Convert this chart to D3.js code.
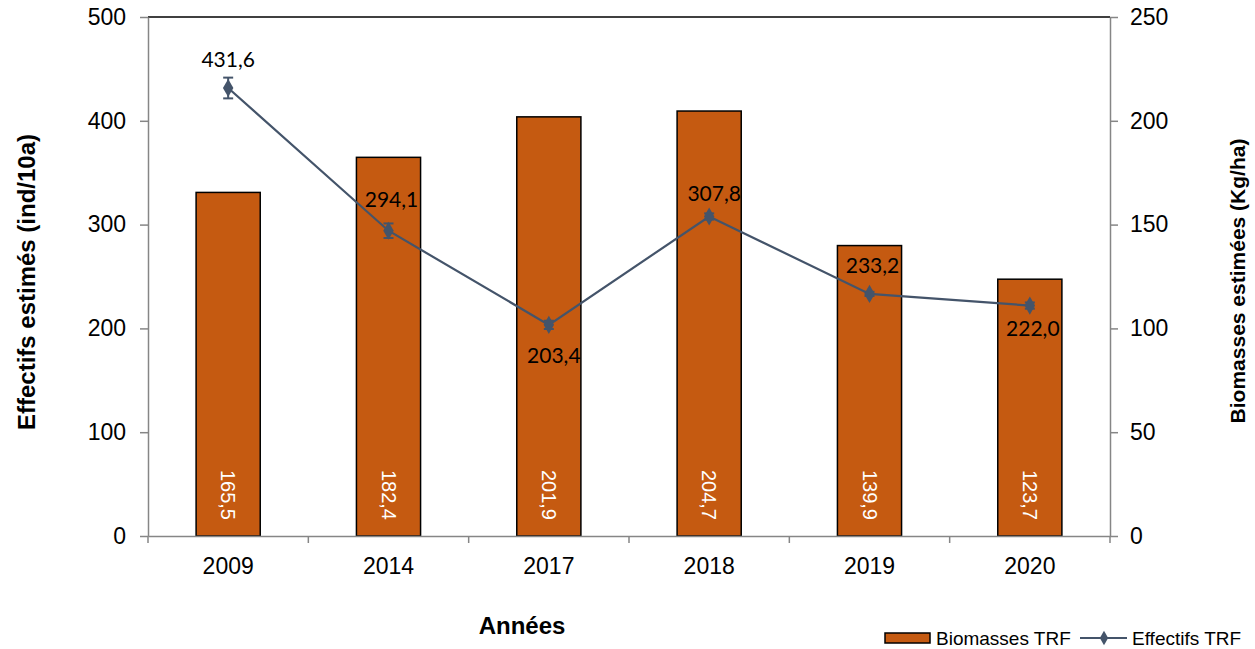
<!DOCTYPE html>
<html><head><meta charset="utf-8">
<script src="https://cdn.jsdelivr.net/npm/d3@7"></script>
<style>
body{margin:0;background:#fff;}
svg{display:block;}
text{font-family:"Liberation Sans",Arial,sans-serif;}
</style></head>
<body>
<svg id="chart" width="1255" height="649"></svg>
<script>
// ---- data ----
const years = ["2009","2014","2017","2018","2019","2020"];
const biomasses = [165.5, 182.4, 201.9, 204.7, 139.9, 123.7];
const effectifs = [431.6, 294.1, 203.4, 307.8, 233.2, 222.0];
const effectifsErr = [10, 7, 4, 3, 2, 3];
const leftTicks = [0, 100, 200, 300, 400, 500];
const rightTicks = [0, 50, 100, 150, 200, 250];
const fmt = v => v.toFixed(1).replace(".", ",");

// ---- layout ----
const M = {left:148, right:1110, top:17, bottom:536};
const labelDy = [-21, -24, 38, -16, -21, 30];
const labelDx = [0, 3, 5, 5, 3, 3];
const barColor = "#c55a11", lineColor = "#44546a", axisColor = "#868686";

const svg = d3.select("#chart");
const x = d3.scaleBand().domain(years).range([M.left, M.right]).paddingInner(0.6).paddingOuter(0.3);
const yL = d3.scaleLinear().domain([0, 500]).range([M.bottom, M.top]);
const yR = d3.scaleLinear().domain([0, 250]).range([M.bottom, M.top]);
const cx = d => x(d) + x.bandwidth()/2;

// top border
svg.append("line").attr("x1", M.left).attr("x2", M.right).attr("y1", M.top).attr("y2", M.top)
  .attr("stroke", "#000").attr("stroke-width", 1.5);

// bars
svg.append("g").selectAll("rect").data(years).join("rect")
  .attr("x", d => x(d)).attr("width", x.bandwidth())
  .attr("y", (d,i) => yR(biomasses[i])).attr("height", (d,i) => yR(0) - yR(biomasses[i]))
  .attr("fill", barColor).attr("stroke", "#000").attr("stroke-width", 1.5);

// bar labels (rotated, white)
svg.append("g").selectAll("text").data(years).join("text")
  .attr("transform", (d) => `translate(${cx(d)},${yR(0) - 16}) rotate(90)`)
  .attr("text-anchor", "end").attr("dominant-baseline", "central")
  .attr("fill", "#fff").attr("font-size", 20)
  .text((d,i) => fmt(biomasses[i]));

// left axis
const gL = svg.append("g").attr("transform", `translate(${M.left},0)`)
  .call(d3.axisLeft(yL).tickValues(leftTicks).tickSize(8).tickSizeOuter(0).tickPadding(14).tickFormat(d3.format("d")));
// right axis
const gR = svg.append("g").attr("transform", `translate(${M.right},0)`)
  .call(d3.axisRight(yR).tickValues(rightTicks).tickSize(8).tickSizeOuter(0).tickPadding(12).tickFormat(d3.format("d")));
[gL, gR].forEach(g => {
  g.select(".domain").attr("stroke", axisColor).attr("stroke-width", 1.5);
  g.selectAll(".tick line").attr("stroke", axisColor).attr("stroke-width", 1.5);
  g.selectAll(".tick text").attr("font-size", 23).attr("fill", "#000")
    .attr("font-family", "Liberation Sans, Arial, sans-serif");
});

// bottom axis
const gB = svg.append("g").attr("transform", `translate(0,${M.bottom})`)
  .call(d3.axisBottom(x).tickSize(0).tickPadding(22));
gB.select(".domain").attr("stroke", axisColor).attr("stroke-width", 1.5);
gB.selectAll(".tick text").attr("font-size", 23).attr("fill", "#000")
  .attr("font-family", "Liberation Sans, Arial, sans-serif");
const bounds = years.map(d => x(d) - x.step()*x.paddingInner()/2).concat([M.right]);
gB.selectAll(".sep").data(bounds).join("line").attr("class", "sep")
  .attr("x1", d => d).attr("x2", d => d).attr("y1", 0).attr("y2", 7)
  .attr("stroke", axisColor).attr("stroke-width", 1.5);

// line
const line = d3.line().x(d => cx(d)).y((d,i) => yL(effectifs[i]));
svg.append("path").datum(years).attr("d", line)
  .attr("fill", "none").attr("stroke", lineColor).attr("stroke-width", 2.2);

// error bars
const eb = svg.append("g").attr("stroke", lineColor).attr("stroke-width", 2);
years.forEach((d,i) => {
  const xc = cx(d), y1 = yL(effectifs[i] + effectifsErr[i]), y2 = yL(effectifs[i] - effectifsErr[i]);
  eb.append("line").attr("x1", xc).attr("x2", xc).attr("y1", y1).attr("y2", y2);
  eb.append("line").attr("x1", xc-5).attr("x2", xc+5).attr("y1", y1).attr("y2", y1);
  eb.append("line").attr("x1", xc-5).attr("x2", xc+5).attr("y1", y2).attr("y2", y2);
});

// markers
const diamond = d3.symbol().type(d3.symbolDiamond).size(95);
svg.append("g").selectAll("path").data(years).join("path")
  .attr("d", diamond)
  .attr("transform", (d,i) => `translate(${cx(d)},${yL(effectifs[i])})`)
  .attr("fill", lineColor);

// point labels
svg.append("g").selectAll("text").data(years).join("text")
  .attr("x", (d,i) => cx(d) + labelDx[i]).attr("y", (d,i) => yL(effectifs[i]) + labelDy[i])
  .attr("text-anchor", "middle").attr("font-size", 21)
  .style("font-family", "Lato, 'Open Sans', sans-serif").attr("fill", "#000")
  .text((d,i) => fmt(effectifs[i]));

// axis titles
svg.append("text").attr("transform", "translate(35,282) rotate(-90)")
  .attr("text-anchor", "middle").attr("font-size", 24).attr("font-weight", "bold")
  .text("Effectifs estimés (ind/10a)");
svg.append("text").attr("transform", "translate(1245,281) rotate(-90)")
  .attr("text-anchor", "middle").attr("font-size", 21).attr("font-weight", "bold")
  .text("Biomasses estimées (Kg/ha)");
svg.append("text").attr("x", 522).attr("y", 634)
  .attr("text-anchor", "middle").attr("font-size", 24).attr("font-weight", "bold")
  .text("Années");

// legend
const lg = svg.append("g");
lg.append("rect").attr("x", 885).attr("y", 633).attr("width", 45).attr("height", 10)
  .attr("fill", barColor).attr("stroke", "#000").attr("stroke-width", 1.5);
lg.append("text").attr("x", 936).attr("y", 645).attr("font-size", 19).text("Biomasses TRF");
lg.append("line").attr("x1", 1080).attr("x2", 1127).attr("y1", 638).attr("y2", 638)
  .attr("stroke", lineColor).attr("stroke-width", 2);
lg.append("path").attr("d", d3.symbol().type(d3.symbolDiamond).size(60))
  .attr("transform", "translate(1104,638)").attr("fill", lineColor);
lg.append("text").attr("x", 1132).attr("y", 645).attr("font-size", 19).text("Effectifs TRF");
</script>
</body></html>
